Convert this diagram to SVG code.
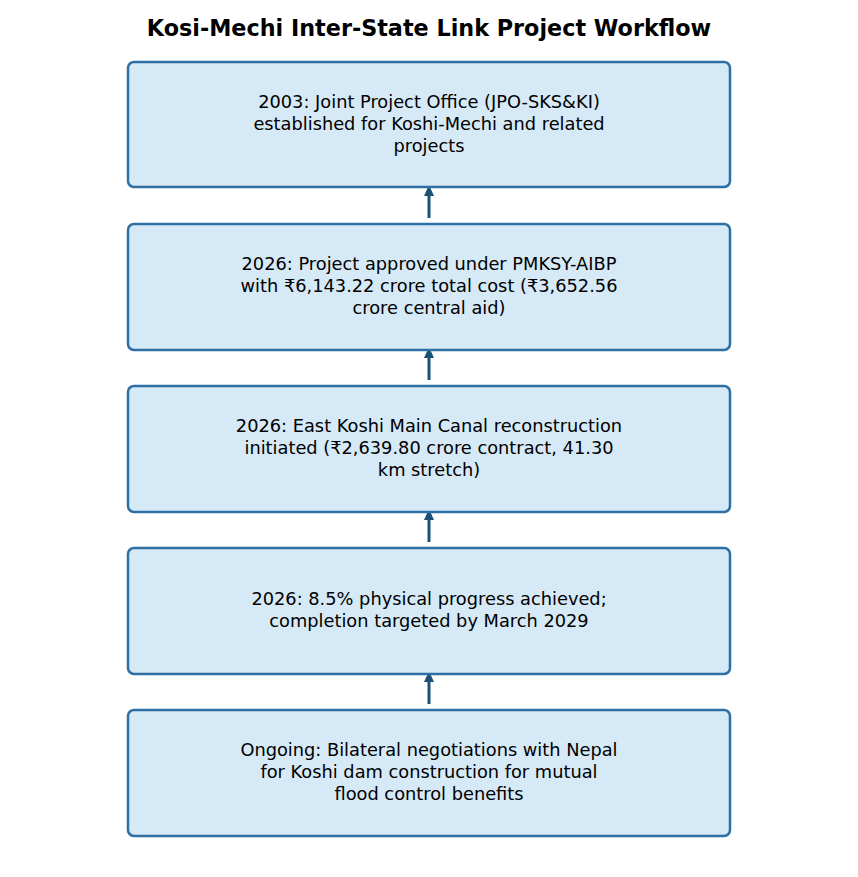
<svg xmlns="http://www.w3.org/2000/svg" width="858" height="877" viewBox="0 0 858 877">
<defs>
<style>
.box{fill:#d6e9f6;stroke:#2e6fa5;stroke-width:2.5}
.t{font-family:"DejaVu Sans",sans-serif;font-size:17.8px;fill:#000;text-anchor:middle}
.title{font-family:"DejaVu Sans",sans-serif;font-size:22.3px;font-weight:bold;fill:#000;text-anchor:middle}
.arr{stroke:#1b5175;stroke-width:3;fill:none}
</style>
<marker id="ah" markerWidth="11" markerHeight="11" refX="1" refY="5" orient="auto" markerUnits="userSpaceOnUse" viewBox="0 0 11 10">
<path d="M0,0 L11,5 L0,10 Z" fill="#1b5175"/>
</marker>
</defs>
<rect width="858" height="877" fill="#fff"/>
<text class="title" x="429" y="36">Kosi-Mechi Inter-State Link Project Workflow</text>
<g id="connectors">
<line class="arr" x1="429" y1="218" x2="429" y2="195" marker-end="url(#ah)"/>
<line class="arr" x1="429" y1="380" x2="429" y2="357" marker-end="url(#ah)"/>
<line class="arr" x1="429" y1="542" x2="429" y2="519" marker-end="url(#ah)"/>
<line class="arr" x1="429" y1="704" x2="429" y2="681" marker-end="url(#ah)"/>
</g>
<g id="n1">
<rect class="box" x="128" y="62" width="602" height="125" rx="6"/>
<text class="t" x="429" y="108">2003: Joint Project Office (JPO-SKS&amp;KI)</text>
<text class="t" x="429" y="130">established for Koshi-Mechi and related</text>
<text class="t" x="429" y="152">projects</text>
</g>
<g id="n2">
<rect class="box" x="128" y="224" width="602" height="126" rx="6"/>
<text class="t" x="429" y="270">2026: Project approved under PMKSY-AIBP</text>
<text class="t" x="429" y="292">with ₹6,143.22 crore total cost (₹3,652.56</text>
<text class="t" x="429" y="314">crore central aid)</text>
</g>
<g id="n3">
<rect class="box" x="128" y="386" width="602" height="126" rx="6"/>
<text class="t" x="429" y="432">2026: East Koshi Main Canal reconstruction</text>
<text class="t" x="429" y="454">initiated (₹2,639.80 crore contract, 41.30</text>
<text class="t" x="429" y="476">km stretch)</text>
</g>
<g id="n4">
<rect class="box" x="128" y="548" width="602" height="126" rx="6"/>
<text class="t" x="429" y="605">2026: 8.5% physical progress achieved;</text>
<text class="t" x="429" y="627">completion targeted by March 2029</text>
</g>
<g id="n5">
<rect class="box" x="128" y="710" width="602" height="126" rx="6"/>
<text class="t" x="429" y="756">Ongoing: Bilateral negotiations with Nepal</text>
<text class="t" x="429" y="778">for Koshi dam construction for mutual</text>
<text class="t" x="429" y="800">flood control benefits</text>
</g>
</svg>
